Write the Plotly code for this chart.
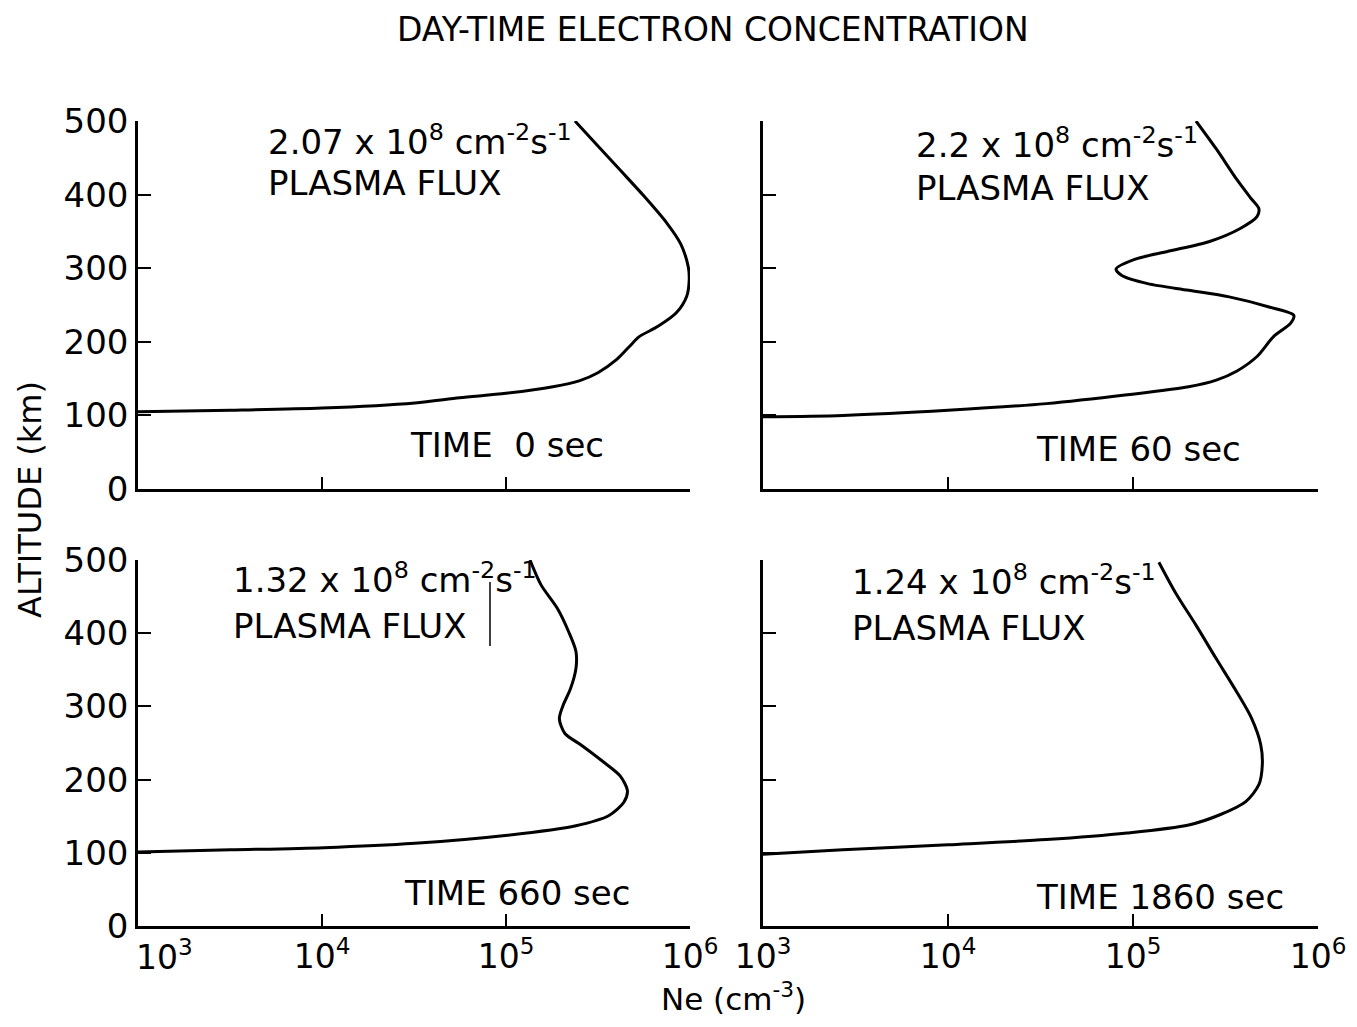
import plotly.graph_objects as go

# ---------------- data ----------------
# Panel: TIME 0 sec
alt_t0 = [500, 466, 432, 398, 361, 333, 301, 284, 262, 239, 221, 207, 194, 176, 158, 147, 139, 130, 124, 117, 110, 107, 105]
ne_t0 = [2.37e5, 3.16e5, 4.22e5, 5.62e5, 7.5e5, 8.9e5, 9.8e5, 9.9e5, 9.6e5, 8.4e5, 6.7e5, 5.3e5, 4.7e5, 4.0e5, 3.16e5, 2.5e5, 1.8e5, 1.0e5, 5.6e4, 3.2e4, 1.0e4, 3.2e3, 1.0e3]

# Panel: TIME 60 sec
alt_t60 = [500, 462, 421, 394, 381, 370, 354, 336, 323, 312, 299, 290, 279, 270, 261, 247, 236, 225, 207, 180, 160, 148, 139, 128, 116, 107, 100, 98]
ne_t60 = [2.19e5, 2.82e5, 3.63e5, 4.37e5, 4.79e5, 4.68e5, 3.8e5, 2.57e5, 1.55e5, 1.02e5, 8.1e4, 8.7e4, 1.2e5, 2.0e5, 3.31e5, 5.5e5, 7.4e5, 7.1e5, 5.75e5, 4.68e5, 3.63e5, 2.82e5, 2.0e5, 9.3e4, 3.4e4, 1.0e4, 2.7e3, 1.0e3]

# Panel: TIME 660 sec
alt_t660 = [500, 466, 434, 402, 375, 352, 324, 301, 283, 263, 247, 224, 205, 185, 169, 151, 137, 124, 113, 107, 104, 101]
ne_t660 = [1.35e5, 1.55e5, 1.9e5, 2.19e5, 2.4e5, 2.4e5, 2.24e5, 2.04e5, 1.95e5, 2.09e5, 2.57e5, 3.39e5, 4.17e5, 4.57e5, 4.37e5, 3.63e5, 2.4e5, 1.02e5, 3.2e4, 1.02e4, 3.2e3, 1.0e3]

# Panel: TIME 1860 sec
alt_t1860 = [497, 455, 411, 365, 320, 284, 248, 220, 193, 170, 152, 138, 127, 118, 111, 104, 98]
ne_t1860 = [1.38e5, 1.7e5, 2.19e5, 2.82e5, 3.63e5, 4.37e5, 4.9e5, 5.0e5, 4.79e5, 4.07e5, 2.95e5, 2.0e5, 9.3e4, 3.4e4, 1.0e4, 2.7e3, 1.0e3]

flux_labels = ["2.07 x 10<sup>8</sup> cm<sup>-2</sup>s<sup>-1</sup>",
               "2.2 x 10<sup>8</sup> cm<sup>-2</sup>s<sup>-1</sup>",
               "1.32 x 10<sup>8</sup> cm<sup>-2</sup>s<sup>-1</sup>",
               "1.24 x 10<sup>8</sup> cm<sup>-2</sup>s<sup>-1</sup>"]
time_labels = ["TIME  0 sec", "TIME 60 sec", "TIME 660 sec", "TIME 1860 sec"]

x_tickvals = [1e3, 1e4, 1e5, 1e6]
x_ticktext = ["10<sup>3</sup>", "10<sup>4</sup>", "10<sup>5</sup>", "10<sup>6</sup>"]
y_tickvals = [0, 100, 200, 300, 400, 500]
y_ticktext = ["0", "100", "200", "300", "400", "500"]

title_text = "DAY-TIME ELECTRON CONCENTRATION"
x_title = "Ne (cm<sup>-3</sup>)"
y_title = "ALTITUDE (km)"

# ---------------- layout helpers ----------------
PAGE_MARGIN = 8          # default body margin of the html page
W, H = 1357 - 2 * PAGE_MARGIN, 1027 - 2 * PAGE_MARGIN
FONT = "DejaVu Sans"


def px(x):
    """screen x (reference pixels) -> paper fraction"""
    return (x - PAGE_MARGIN) / W


def py(y):
    """screen y (reference pixels, top-down) -> paper fraction"""
    return 1 - (y - PAGE_MARGIN) / H


series = [(ne_t0, alt_t0), (ne_t60, alt_t60), (ne_t660, alt_t660), (ne_t1860, alt_t1860)]
axes_ids = ["", "2", "3", "4"]

fig = go.Figure()
for (ne, alt), aid in zip(series, axes_ids):
    fig.add_trace(go.Scatter(
        x=ne, y=alt, mode="lines",
        line=dict(color="black", width=3, shape="spline", smoothing=0.8),
        xaxis="x" + aid, yaxis="y" + aid, showlegend=False, hoverinfo="skip",
    ))

x_dom_left = [px(138), px(690)]
x_dom_right = [px(763), px(1318)]
y_dom_top = [py(489), py(121)]
y_dom_bot = [py(926), py(560)]

# lower-left panel: the first label sits right of its tick in the original
# (clear of the "0"), so it is drawn as a separate text below
x_ticktext_left = [""] + x_ticktext[1:]

common_x = dict(type="log", range=[3, 6], showline=True, linecolor="black", linewidth=2.5,
                ticks="inside", ticklen=12, tickwidth=2, tickcolor="black",
                tickvals=x_tickvals, ticktext=x_ticktext, showgrid=False, zeroline=False,
                automargin=False,
                tickfont=dict(family=FONT, size=33, color="black"))
common_y = dict(range=[0, 500], showline=True, linecolor="black", linewidth=2.5,
                ticks="inside", ticklen=13, tickwidth=2, tickcolor="black",
                tickvals=y_tickvals, ticktext=y_ticktext, showgrid=False, zeroline=False,
                automargin=False,
                tickfont=dict(family=FONT, size=34, color="black"))

layout = dict(
    width=W, height=H,
    margin=dict(l=0, r=0, t=0, b=0, autoexpand=False),
    paper_bgcolor="white", plot_bgcolor="white",
    showlegend=False,
    xaxis=dict(common_x, domain=x_dom_left, anchor="y", showticklabels=False),
    yaxis=dict(common_y, domain=y_dom_top, anchor="x", showticklabels=True),
    xaxis2=dict(common_x, domain=x_dom_right, anchor="y2", showticklabels=False),
    yaxis2=dict(common_y, domain=y_dom_top, anchor="x2", showticklabels=False),
    xaxis3=dict(common_x, domain=x_dom_left, anchor="y3", showticklabels=True,
                ticktext=x_ticktext_left),
    yaxis3=dict(common_y, domain=y_dom_bot, anchor="x3", showticklabels=True),
    xaxis4=dict(common_x, domain=x_dom_right, anchor="y4", showticklabels=True),
    yaxis4=dict(common_y, domain=y_dom_bot, anchor="x4", showticklabels=False),
)
fig.update_layout(**layout)

ann = []
font_txt = dict(family=FONT, size=34, color="black")
# title
ann.append(dict(text=title_text, x=px(713), y=py(29), xref="paper", yref="paper",
                xanchor="center", yanchor="middle", showarrow=False,
                font=dict(family=FONT, size=33, color="black")))
# axis titles
ann.append(dict(text=y_title, x=px(30), y=py(500), xref="paper", yref="paper",
                xanchor="center", yanchor="middle", textangle=-90, showarrow=False,
                font=dict(family=FONT, size=32, color="black")))
ann.append(dict(text=x_title, x=px(733), y=py(997), xref="paper", yref="paper",
                xanchor="center", yanchor="middle", showarrow=False,
                font=dict(family=FONT, size=31, color="black")))
# first x tick label of the lower-left panel
ann.append(dict(text=x_ticktext[0], x=px(134), y=py(955), xref="paper", yref="paper",
                xanchor="left", yanchor="middle", showarrow=False,
                font=dict(family=FONT, size=33, color="black")))

# panel texts: (flux line left x, flux y, plasma y, time left x, time y)
pos = [(266, 140, 183, 408, 445),
       (914, 143, 188, 1034, 449),
       (231, 578, 626, 402, 893),
       (850, 580, 628, 1034, 897)]
for (fx, fy, pyy, tx, ty), fl, tl in zip(pos, flux_labels, time_labels):
    ann.append(dict(text=fl, x=px(fx), y=py(fy), xref="paper", yref="paper",
                    xanchor="left", yanchor="middle", showarrow=False, font=font_txt))
    ann.append(dict(text="PLASMA FLUX", x=px(fx), y=py(pyy), xref="paper", yref="paper",
                    xanchor="left", yanchor="middle", showarrow=False, font=font_txt))
    ann.append(dict(text=tl, x=px(tx), y=py(ty), xref="paper", yref="paper",
                    xanchor="left", yanchor="middle", showarrow=False, font=font_txt))
fig.update_layout(annotations=ann)

# stray vertical stroke next to "PLASMA FLUX" in the lower-left panel
fig.add_shape(type="line", xref="paper", yref="paper",
              x0=px(490), x1=px(490), y0=py(582), y1=py(646),
              line=dict(color="black", width=1.5))

fig.write_html("out.html")
